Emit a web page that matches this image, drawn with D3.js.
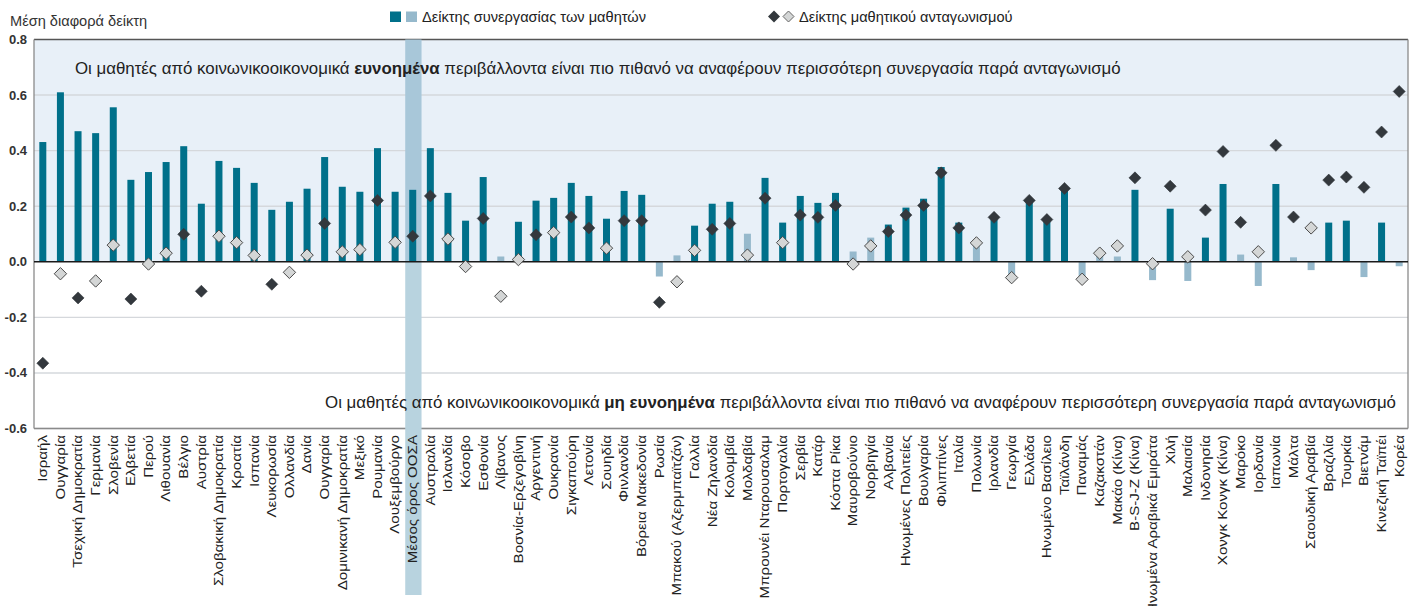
<!DOCTYPE html>
<html>
<head>
<meta charset="utf-8">
<script src="https://cdn.jsdelivr.net/npm/d3@7"></script>
<style>
  html, body { margin: 0; padding: 0; background: #fff; }
  svg { display: block; font-family: "Liberation Sans", Arial, sans-serif; }
</style>
</head>
<body>
<svg id="chart" width="1415" height="606"></svg>
<script>
const categories = ["Ισραήλ","Ουγγαρία","Τσεχική Δημοκρατία","Γερμανία","Σλοβενία","Ελβετία","Περού","Λιθουανία","Βέλγιο","Αυστρία","Σλοβακική Δημοκρατία","Κροατία","Ισπανία","Λευκορωσία","Ολλανδία","Δανία","Ουγγαρία","Δομινικανή Δημοκρατία","Μεξικό","Ρουμανία","Λουξεμβούργο","Μέσος όρος ΟΟΣΑ","Αυστραλία","Ισλανδία","Κόσοβο","Εσθονία","Λίβανος","Βοσνία-Ερζεγοβίνη","Αργεντινή","Ουκρανία","Σιγκαπούρη","Λετονία","Σουηδία","Φινλανδία","Βόρεια Μακεδονία","Ρωσία","Μπακού (Αζερμπαϊτζάν)","Γαλλία","Νέα Ζηλανδία","Κολομβία","Μολδαβία","Μπρουνέι Νταρουσαλαμ","Πορτογαλία","Σερβία","Κατάρ","Κόστα Ρίκα","Μαυροβούνιο","Νορβηγία","Αλβανία","Ηνωμένες Πολιτείες","Βουλγαρία","Φιλιππίνες","Ιταλία","Πολωνία","Ιρλανδία","Γεωργία","Ελλάδα","Ηνωμένο Βασίλειο","Ταϊλάνδη","Παναμάς","Καζακστάν","Μακάο (Κίνα)","B-S-J-Z (Κίνα)","Ηνωμένα Αραβικά Εμιράτα","Χιλή","Μαλαισία","Ινδονησία","Χονγκ Κονγκ (Κίνα)","Μαρόκο","Ιορδανία","Ιαπωνία","Μάλτα","Σαουδική Αραβία","Βραζιλία","Τουρκία","Βιετνάμ","Κινεζική Ταϊπέι","Κορέα"];

// Student cooperation index (bars)
const cooperation = [0.431,0.610,0.470,0.463,0.556,0.295,0.323,0.359,0.416,0.209,0.363,0.338,0.284,0.187,0.216,0.263,0.377,0.270,0.252,0.409,0.252,0.259,0.409,0.248,0.148,0.305,0.019,0.144,0.220,0.230,0.284,0.237,0.155,0.255,0.241,-0.053,0.023,0.130,0.209,0.216,0.101,0.302,0.141,0.237,0.212,0.248,0.037,0.087,0.134,0.195,0.227,0.341,0.141,0.062,0.162,-0.048,0.220,0.148,0.259,-0.051,0.023,0.019,0.259,-0.066,0.191,-0.069,0.087,0.280,0.026,-0.087,0.280,0.016,-0.030,0.141,0.148,-0.055,0.141,-0.016];
// 1 = significant (dark), 0 = not significant (light)
const cooperationSig = [1,1,1,1,1,1,1,1,1,1,1,1,1,1,1,1,1,1,1,1,1,1,1,1,1,1,0,1,1,1,1,1,1,1,1,0,0,1,1,1,0,1,1,1,1,1,0,0,1,1,1,1,1,0,1,0,1,1,1,0,0,0,1,0,1,0,1,1,0,0,1,0,0,1,1,0,1,0];

// Student competition index (diamonds)
const competition = [-0.365,-0.043,-0.130,-0.069,0.060,-0.134,-0.008,0.031,0.099,-0.106,0.092,0.069,0.023,-0.081,-0.038,0.024,0.138,0.036,0.044,0.221,0.070,0.092,0.237,0.082,-0.017,0.156,-0.124,0.008,0.097,0.105,0.161,0.122,0.049,0.148,0.148,-0.146,-0.072,0.041,0.117,0.138,0.024,0.229,0.069,0.168,0.160,0.203,-0.008,0.057,0.109,0.168,0.203,0.320,0.122,0.068,0.160,-0.057,0.221,0.152,0.264,-0.063,0.031,0.057,0.302,-0.007,0.272,0.018,0.186,0.397,0.142,0.036,0.419,0.161,0.122,0.294,0.305,0.268,0.467,0.613];
const competitionSig = [1,0,1,0,0,1,0,0,1,1,0,0,0,1,0,0,1,0,0,1,0,1,1,0,0,1,0,0,1,0,1,1,0,1,1,1,0,0,1,1,0,1,0,1,1,1,0,0,1,1,1,1,1,0,1,0,1,1,1,0,0,0,1,0,1,0,1,1,1,0,1,1,0,1,1,1,1,1];

const yTicks = [0.8, 0.6, 0.4, 0.2, 0.0, -0.2, -0.4, -0.6];
const highlightCategory = "Μέσος όρος ΟΟΣΑ";

const C = {
  dark: "#00708a", light: "#96b9cc",
  dDark: "#33383d", dLight: "#d4d6d6", dStroke: "#4a4a4a",
  bgTop: "#e8f0f8", grid: "#d5d8dc", text: "#222"
};

const svg = d3.select("#chart");
const pLeft = 34, pRight = 1408, pTop = 39.5, pBottom = 428.5;

const idx = d3.range(categories.length);
const x = d3.scaleBand().domain(idx).range([pLeft, pRight]).paddingInner(0).paddingOuter(0);
const y = d3.scaleLinear().domain([-0.6, 0.8]).range([pBottom, pTop]);
const barW = 7;
const cx = i => x(i) + x.bandwidth() / 2;

// Background above zero
svg.append("rect").attr("x", pLeft).attr("y", y(0.8)).attr("width", pRight - pLeft).attr("height", y(0) - y(0.8)).attr("fill", C.bgTop);

// Gridlines
svg.append("g").selectAll("line").data(yTicks.filter(t => t !== 0 && t !== 0.8))
  .join("line")
  .attr("x1", pLeft).attr("x2", pRight)
  .attr("y1", d => y(d)).attr("y2", d => y(d))
  .attr("stroke", C.grid).attr("stroke-width", 1.4);

// Frame
svg.append("line").attr("x1", pLeft).attr("x2", pRight).attr("y1", y(0.8)).attr("y2", y(0.8)).attr("stroke", "#555").attr("stroke-width", 1.3);
svg.append("line").attr("x1", pLeft).attr("x2", pRight).attr("y1", y(-0.6)).attr("y2", y(-0.6)).attr("stroke", "#8a8a8a").attr("stroke-width", 1.3);
svg.append("line").attr("x1", pLeft).attr("x2", pLeft).attr("y1", y(0.8)).attr("y2", y(-0.6)).attr("stroke", "#8a8a8a").attr("stroke-width", 1.3);
svg.append("line").attr("x1", pRight).attr("x2", pRight).attr("y1", y(0.8)).attr("y2", y(-0.6)).attr("stroke", "#8a8a8a").attr("stroke-width", 1.3);

// OECD highlight band
const hi = categories.indexOf(highlightCategory);
const hx = cx(hi) - 7.5;
const hw = 16.3;
svg.append("rect").attr("x", hx).attr("y", y(0.8)).attr("width", hw).attr("height", y(0) - y(0.8)).attr("fill", "#a8c7d9");
svg.append("rect").attr("x", hx).attr("y", y(0)).attr("width", hw).attr("height", 595 - y(0)).attr("fill", "#b8d3df");

// Annotations
const annSize = 16.85;
const ann1 = svg.append("text").attr("x", 75).attr("y", 74).attr("font-size", annSize).attr("fill", C.text);
ann1.append("tspan").text("Οι μαθητές από κοινωνικοοικονομικά ");
ann1.append("tspan").attr("font-weight", "bold").text("ευνοημένα");
ann1.append("tspan").text(" περιβάλλοντα είναι πιο πιθανό να αναφέρουν περισσότερη συνεργασία παρά ανταγωνισμό");

const ann2 = svg.append("text").attr("x", 1396).attr("y", 408).attr("text-anchor", "end").attr("font-size", annSize).attr("fill", C.text);
ann2.append("tspan").text("Οι μαθητές από κοινωνικοοικονομικά ");
ann2.append("tspan").attr("font-weight", "bold").text("μη ευνοημένα");
ann2.append("tspan").text(" περιβάλλοντα είναι πιο πιθανό να αναφέρουν περισσότερη συνεργασία παρά ανταγωνισμό");

// Bars
const rows = idx.map(i => ({i, c: categories[i], v: cooperation[i], s: cooperationSig[i], m: competition[i], ms: competitionSig[i]}));
svg.append("g").selectAll("rect").data(rows).join("rect")
  .attr("x", d => cx(d.i) - barW / 2)
  .attr("y", d => y(Math.max(0, d.v)))
  .attr("width", barW)
  .attr("height", d => Math.abs(y(d.v) - y(0)))
  .attr("fill", d => d.s ? C.dark : C.light);

// Zero line
svg.append("line").attr("x1", pLeft).attr("x2", pRight).attr("y1", y(0)).attr("y2", y(0)).attr("stroke", "#1a1a1a").attr("stroke-width", 1.5);

// Diamonds
const diamond = r => `M0,${-r}L${r},0L0,${r}L${-r},0Z`;
svg.append("g").selectAll("path").data(rows).join("path")
  .attr("transform", d => `translate(${cx(d.i)},${y(d.m)})`)
  .attr("d", d => diamond(d.ms ? 6 : 6.2))
  .attr("fill", d => d.ms ? C.dDark : C.dLight)
  .attr("stroke", d => d.ms ? C.dDark : C.dStroke)
  .attr("stroke-width", d => d.ms ? 0.6 : 1);

// Y axis tick labels
svg.append("g").selectAll("text").data(yTicks).join("text")
  .attr("x", 27).attr("y", d => y(d)).attr("dy", "0.35em")
  .attr("text-anchor", "end")
  .attr("font-size", 13).attr("font-weight", "bold").attr("fill", "#333")
  .text(d => d.toFixed(1));

// Y axis title
svg.append("text").attr("x", 10).attr("y", 25.5).attr("font-size", 14.6).attr("fill", "#333").text("Μέση διαφορά δείκτη");

// X labels (wide geometric face approximated by horizontal stretch)
svg.append("g").selectAll("text").data(rows).join("text")
  .attr("transform", d => `translate(${cx(d.i)},435) rotate(-90) scale(1.26,1)`)
  .attr("dy", "0.36em")
  .attr("text-anchor", "end")
  .attr("font-size", 12).attr("fill", C.text)
  .text(d => d.c);

// Legend
const lg = svg.append("g");
lg.append("rect").attr("x", 390).attr("y", 11.5).attr("width", 11).attr("height", 10.5).attr("fill", C.dark);
lg.append("rect").attr("x", 406).attr("y", 11.5).attr("width", 11).attr("height", 10.5).attr("fill", C.light);
lg.append("text").attr("x", 422).attr("y", 21.5).attr("font-size", 14.6).attr("fill", C.text).text("Δείκτης συνεργασίας των μαθητών");
lg.append("path").attr("transform", "translate(774,16.5)").attr("d", diamond(6)).attr("fill", C.dDark);
lg.append("path").attr("transform", "translate(788.5,16.5)").attr("d", diamond(5.5)).attr("fill", C.dLight).attr("stroke", "#666").attr("stroke-width", 1);
lg.append("text").attr("x", 799).attr("y", 21.5).attr("font-size", 14.6).attr("fill", C.text).text("Δείκτης μαθητικού  ανταγωνισμού");
</script>
</body>
</html>
